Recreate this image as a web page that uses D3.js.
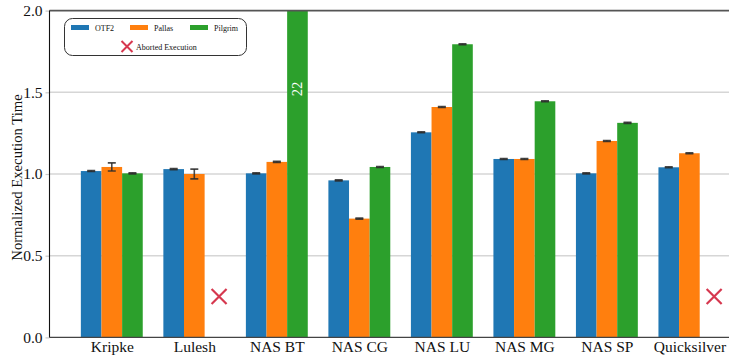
<!DOCTYPE html>
<html>
<head>
<meta charset="utf-8">
<script src="https://cdn.jsdelivr.net/npm/d3@7/dist/d3.min.js"></script>
<style>
  html, body { margin: 0; padding: 0; background: #fff; }
  svg, svg text { font-family: "Liberation Serif", "DejaVu Serif", serif; }
  svg { display: block; }
</style>
</head>
<body>
<svg id="chart" width="729" height="355"></svg>
<script>
// Benchmarks on the x axis
const categories = ["Kripke", "Lulesh", "NAS BT", "NAS CG", "NAS LU", "NAS MG", "NAS SP", "Quicksilver"];

// Normalized execution time per trace format (null = aborted run)
const otf2Values    = [1.018, 1.030, 1.004, 0.961, 1.255, 1.092, 1.004, 1.041];
const pallasValues  = [1.043, 1.000, 1.074, 0.727, 1.410, 1.092, 1.202, 1.127];
const pilgrimValues = [1.004, null, 22, 1.043, 1.794, 1.445, 1.313, null];

// Standard deviations for the error bars
const otf2Errors    = [0.003, 0.003, 0.003, 0.003, 0.003, 0.003, 0.003, 0.003];
const pallasErrors  = [0.025, 0.030, 0.003, 0.003, 0.003, 0.003, 0.003, 0.003];
const pilgrimErrors = [0.003, null, 0.003, 0.003, 0.003, 0.003, 0.003, null];

// Series names and colours
const seriesNames  = ["OTF2", "Pallas", "Pilgrim"];
const seriesColors = ["#1f77b4", "#ff7f0e", "#2ca02c"];

// Y axis ticks and the marker height for aborted runs
const yTicks = [0, 0.5, 1.0, 1.5, 2.0];
const abortedLevel = 0.25;
const abortedLabel = "Aborted Execution";
const clippedLabelLevel = 1.52;

const series = [
  { name: seriesNames[0], color: seriesColors[0], values: otf2Values, errors: otf2Errors, offset: -0.25 },
  { name: seriesNames[1], color: seriesColors[1], values: pallasValues, errors: pallasErrors, offset: 0 },
  { name: seriesNames[2], color: seriesColors[2], values: pilgrimValues, errors: pilgrimErrors, offset: 0.25 }
];
const barWidthUnits = 0.25;

const serif = '"Liberation Serif", "DejaVu Serif", serif';
const svg = d3.select("#chart");
const plotLeft = 49.5, plotRight = 729, plotTop = 10.6, plotBottom = 337.4;

const x = d3.scaleLinear().domain([-0.755, 7.48]).range([plotLeft, plotRight]);
const y = d3.scaleLinear().domain([0, 2]).range([plotBottom, plotTop]);
const barW = x(barWidthUnits) - x(0);

// clip region for the plotting area
svg.append("defs").append("clipPath").attr("id", "plotClip")
  .append("rect").attr("x", plotLeft).attr("y", plotTop)
  .attr("width", plotRight - plotLeft).attr("height", plotBottom - plotTop);

// horizontal grid
svg.append("g").selectAll("line")
  .data(yTicks.filter(t => t > 0 && t < 2))
  .join("line")
  .attr("x1", plotLeft).attr("x2", plotRight)
  .attr("y1", d => y(d)).attr("y2", d => y(d))
  .attr("stroke", "#d6d6d6").attr("stroke-width", 1.5);

// y axis with short outer ticks
const yAxis = d3.axisLeft(y).tickValues(yTicks).tickFormat(d3.format(".1f")).tickSize(4).tickPadding(3);
const yg = svg.append("g").attr("transform", `translate(${plotLeft},0)`).call(yAxis)
  .style("font-family", serif).attr("font-size", 15.5);
yg.select(".domain").remove();
yg.selectAll(".tick line").attr("stroke", "#c8c8c8").attr("stroke-width", 1.2);
yg.selectAll(".tick text").style("font-family", serif).style("font-size", "15.5px").attr("fill", "#111");

// bars
const plot = svg.append("g").attr("clip-path", "url(#plotClip)");
series.forEach(s => {
  const rows = categories.map((c, i) => ({ i, v: s.values[i], e: s.errors[i] })).filter(r => r.v != null);
  plot.append("g").selectAll("rect")
    .data(rows)
    .join("rect")
    .attr("x", r => x(r.i + s.offset) - barW / 2)
    .attr("width", barW)
    .attr("y", r => y(r.v))
    .attr("height", r => y(0) - y(r.v))
    .attr("fill", s.color);

  // error bars
  const eg = plot.append("g").attr("stroke", "#2b2b2b").attr("stroke-opacity", 0.85).attr("stroke-width", 1.6);
  rows.forEach(r => {
    const cx = x(r.i + s.offset);
    eg.append("line").attr("x1", cx).attr("x2", cx).attr("y1", y(r.v - r.e)).attr("y2", y(r.v + r.e));
    [r.v - r.e, r.v + r.e].forEach(v => {
      eg.append("line").attr("x1", cx - 4).attr("x2", cx + 4).attr("y1", y(v)).attr("y2", y(v));
    });
  });
});

// value label on the bar that runs past the top of the axis
series.forEach(s => {
  s.values.forEach((v, i) => {
    if (v != null && v > y.domain()[1]) {
      const cx = x(i + s.offset), cy = y(clippedLabelLevel);
      svg.append("text")
        .attr("transform", `translate(${cx},${cy}) rotate(-90)`)
        .attr("text-anchor", "middle").attr("dominant-baseline", "central")
        .style("font-family", serif).style("font-size", "14.5px").attr("fill", "#fff")
        .text(d3.format("d")(v));
    }
  });
});

// markers for aborted executions
function drawCross(g, cx, cy, half, width) {
  g.append("path")
    .attr("d", `M${cx - half},${cy - half}L${cx + half},${cy + half}M${cx - half},${cy + half}L${cx + half},${cy - half}`)
    .attr("stroke", "#d6384f").attr("stroke-width", width).attr("fill", "none");
}
const abortedG = svg.append("g");
series.forEach(s => {
  s.values.forEach((v, i) => {
    if (v == null) drawCross(abortedG, x(i + s.offset + 0.05), y(abortedLevel), 7.5, 2.2);
  });
});

// spines
svg.append("line").attr("x1", plotLeft).attr("x2", plotRight).attr("y1", plotTop).attr("y2", plotTop)
  .attr("stroke", "#555").attr("stroke-width", 1.6);
svg.append("line").attr("x1", plotLeft).attr("x2", plotLeft).attr("y1", plotTop).attr("y2", plotBottom)
  .attr("stroke", "#111").attr("stroke-width", 1.1);
svg.append("line").attr("x1", plotLeft).attr("x2", plotRight).attr("y1", plotBottom).attr("y2", plotBottom)
  .attr("stroke", "#444").attr("stroke-width", 1.4);

// x axis labels
const xAxis = d3.axisBottom(x).tickValues(d3.range(categories.length)).tickFormat(i => categories[i]).tickSize(0).tickPadding(4);
const xg = svg.append("g").attr("transform", `translate(0,${plotBottom})`).call(xAxis)
  .style("font-family", serif).attr("font-size", 15.5);
xg.select(".domain").remove();
xg.selectAll(".tick text").style("font-family", serif).style("font-size", "15.5px").attr("fill", "#111");

// y axis title
svg.append("text")
  .attr("transform", `translate(17,177.5) rotate(-90)`)
  .attr("text-anchor", "middle").attr("dominant-baseline", "central")
  .style("font-family", serif).style("font-size", "14.7px").attr("fill", "#111")
  .text("Normalized Execution Time");

// legend
const lg = svg.append("g").style("font-family", serif);
lg.append("rect").attr("x", 64.5).attr("y", 18.5).attr("width", 182).attr("height", 37).attr("rx", 8)
  .attr("fill", "#fff").attr("stroke", "#333").attr("stroke-width", 1);
const legendX = [71, 130, 190];
series.forEach((s, k) => {
  lg.append("rect").attr("x", legendX[k]).attr("y", 25).attr("width", 18).attr("height", 5).attr("fill", s.color);
  lg.append("text").attr("x", legendX[k] + 24).attr("y", 30.5).style("font-size", "8px").attr("fill", "#111").text(s.name);
});
drawCross(lg, 127, 46.5, 5.5, 2);
lg.append("text").attr("x", 136).attr("y", 49.5).style("font-size", "8px").attr("fill", "#111").text(abortedLabel);
</script>
</body>
</html>
